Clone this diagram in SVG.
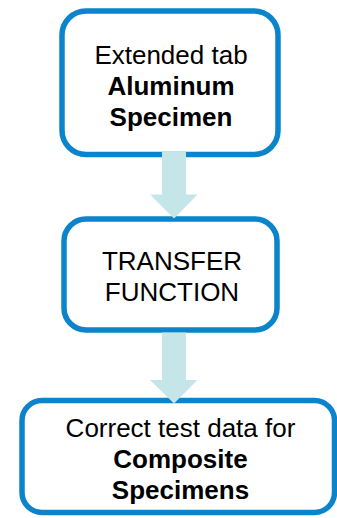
<svg xmlns="http://www.w3.org/2000/svg" width="337" height="518" viewBox="0 0 337 518">
<style>
.box{fill:#fff;stroke:#0B84CC;stroke-width:5.5}
.arr{fill:#C5E6E9;stroke:none}
text{font-family:"Liberation Sans",Arial,sans-serif;font-size:26px;fill:#000;text-anchor:middle}
.b{font-weight:bold}
</style>
<rect width="337" height="518" fill="#fff"/>
<g id="node1">
<rect class="box" x="62" y="11" width="216" height="143.5" rx="24"/>
<text x="171" y="64">Extended tab</text>
<text class="b" x="171" y="95">Aluminum</text>
<text class="b" x="171" y="126">Specimen</text>
</g>
<g id="node2">
<rect class="box" x="64" y="219" width="213" height="111" rx="22"/>
<text x="172" y="270">TRANSFER</text>
<text x="172" y="301">FUNCTION</text>
</g>
<g id="node3">
<rect class="box" x="22" y="400.5" width="312.5" height="112" rx="20"/>
<text x="180.5" y="437">Correct test data for</text>
<text class="b" x="180.5" y="468">Composite</text>
<text class="b" x="180.5" y="499">Specimens</text>
</g>
<g id="connectors">
<polygon class="arr" points="162,152 186,152 186,194.5 197.5,194.5 174,218.5 150,194.5 162,194.5"/>
<polygon class="arr" points="162,332.5 186,332.5 186,380 197.5,380 174,403.5 150,380 162,380"/>
</g>
</svg>
